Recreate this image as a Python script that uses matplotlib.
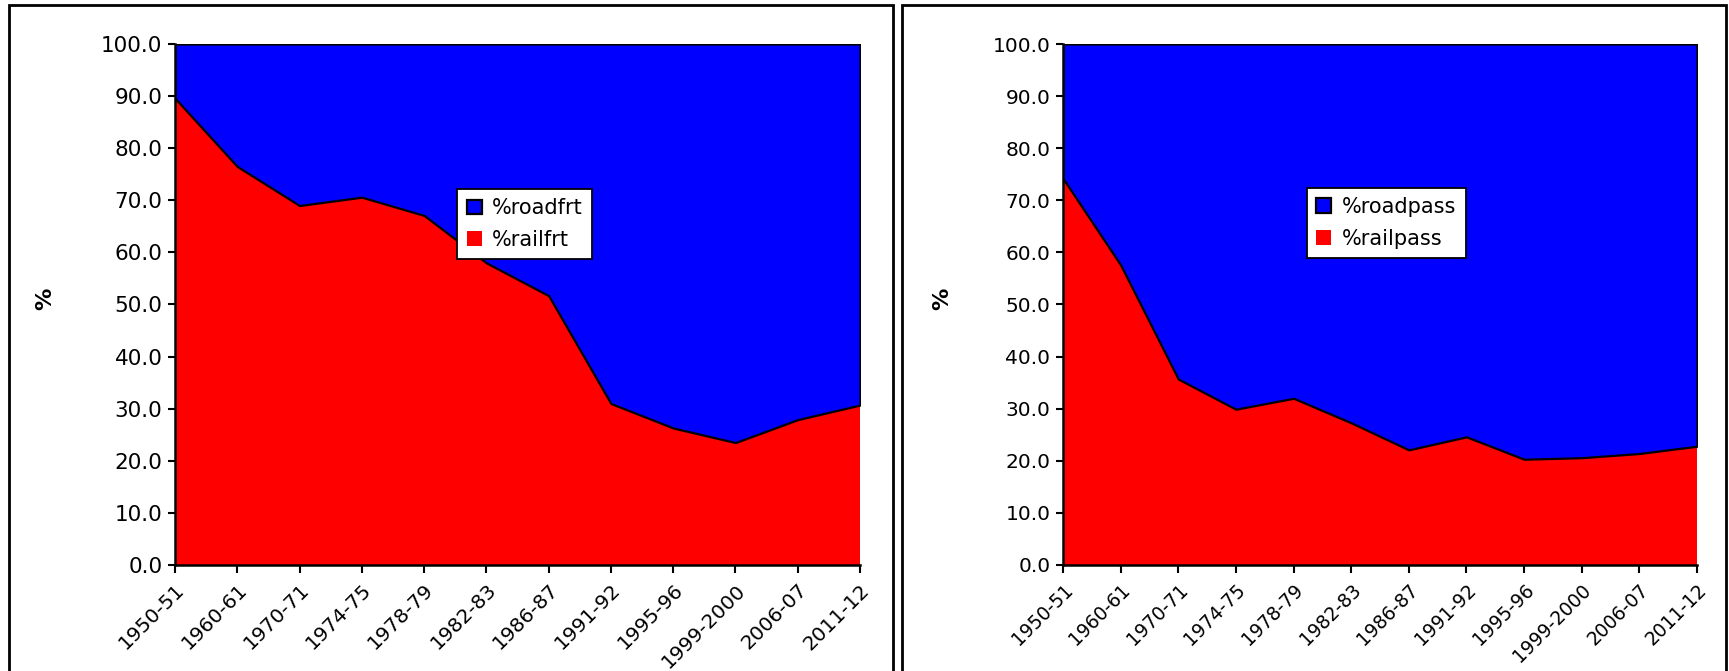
import numpy as np
import matplotlib.pyplot as plt
from matplotlib.patches import Rectangle

years = ['1950-51', '1960-61', '1970-71', '1974-75', '1978-79', '1982-83',
         '1986-87', '1991-92', '1995-96', '1999-2000', '2006-07', '2011-12']

rail_frt = [89.6, 76.5, 69.0, 70.6, 67.1, 58.0, 51.7, 31.0, 26.3, 23.5, 27.9, 30.7]
rail_pass = [74.2, 57.6, 35.7, 29.9, 32.0, 27.3, 22.1, 24.6, 20.3, 20.6, 21.4, 22.8]

yticks = np.arange(0, 101, 10)
FONT = 'DejaVu Sans'


def draw_panel(ax, rail, road_label, rail_label, ysize, xsize, leg_x, leg_y):
    x = np.arange(len(years))
    rail = np.array(rail)
    road_top = np.full(len(years), 100.0)

    ax.fill_between(x, 0, rail, facecolor='#ff0000', edgecolor='none',
                    linewidth=0, label=rail_label)
    ax.fill_between(x, rail, road_top, facecolor='#0000ff', edgecolor='black',
                    linewidth=1.6, label=road_label)

    ax.set_xlim(0, len(years) - 1)
    ax.set_ylim(0, 100)
    ax.set_xticks(x)
    ax.set_xticklabels(years, rotation=45, ha='right', va='top',
                       rotation_mode='anchor', fontfamily=FONT, fontsize=xsize)
    ax.set_yticks(yticks)
    ax.set_yticklabels(['%.1f' % v for v in yticks], fontfamily=FONT, fontsize=ysize)
    ax.tick_params(axis='x', direction='out', length=6, width=1.5, pad=5)
    ax.tick_params(axis='y', direction='out', length=5, width=1.5, pad=4)

    for s in ['top', 'right']:
        ax.spines[s].set_visible(False)
    for s in ['left', 'bottom']:
        ax.spines[s].set_linewidth(1.8)
        ax.spines[s].set_zorder(5)

    ax.text(-0.19, 0.51, '%', transform=ax.transAxes, rotation=90,
            fontweight='bold', fontsize=16, fontfamily=FONT,
            ha='center', va='center')

    handles, labels = ax.get_legend_handles_labels()
    leg = ax.legend(handles[::-1], labels[::-1], loc='upper left',
                    bbox_to_anchor=(leg_x, leg_y), frameon=True, fancybox=False,
                    framealpha=1, facecolor='white',
                    prop={'family': FONT, 'size': 15},
                    handlelength=0.72, handleheight=0.72, handletextpad=0.5,
                    labelspacing=0.55, borderpad=0.45, borderaxespad=0)
    leg.get_frame().set_edgecolor('black')
    leg.get_frame().set_linewidth(1.3)


fig = plt.figure(figsize=(17.29, 6.71), dpi=100)

ax1 = fig.add_axes([0.1012, 0.158, 0.3962, 0.7764])
ax2 = fig.add_axes([0.6148, 0.158, 0.3667, 0.7764])

draw_panel(ax1, rail_frt, '%roadfrt', '%railfrt', 15.5, 14.5, 0.412, 0.722)
draw_panel(ax2, rail_pass, '%roadpass', '%railpass', 14.5, 13.5, 0.385, 0.724)

# outer frames round each chart
fig.add_artist(Rectangle((0.0052, -0.05), 0.5113, 1.0425, transform=fig.transFigure,
                         fill=False, edgecolor='black', linewidth=2))
fig.add_artist(Rectangle((0.5217, -0.05), 0.4766, 1.0425, transform=fig.transFigure,
                         fill=False, edgecolor='black', linewidth=2))

fig.savefig('out.png', dpi=100)
